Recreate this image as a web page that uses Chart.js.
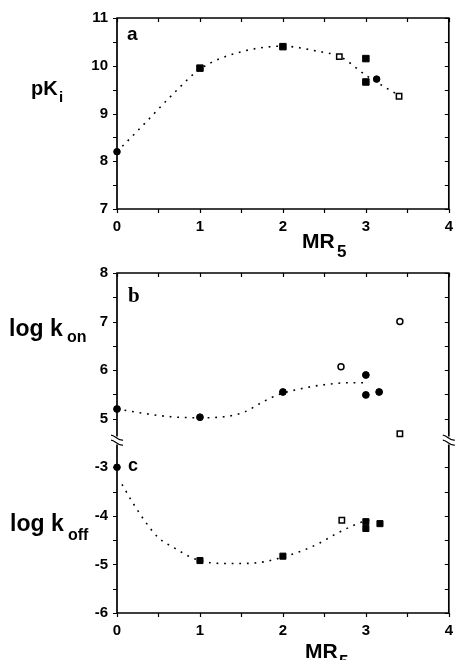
<!DOCTYPE html>
<html><head><meta charset="utf-8">
<script src="https://cdn.jsdelivr.net/npm/chart.js@4.4.1/dist/chart.umd.min.js"></script>
<style>
html,body{margin:0;padding:0;background:#fff;}
#wrap{position:relative;width:462px;height:660px;overflow:hidden;background:#fff;}
#ca,#cb{position:absolute;left:0;}
#ca{top:0;}
#cb{top:250px;}
.t{position:absolute;font-family:"Liberation Sans",Arial,Helvetica,sans-serif;font-weight:bold;color:#000;line-height:1;white-space:nowrap;}
.s{font-family:"Liberation Serif","Times New Roman",serif;}
</style></head><body>
<div id="wrap">
<canvas id="ca" width="462" height="250"></canvas>
<canvas id="cb" width="462" height="410"></canvas>
<span class="t" style="left:31px;top:78px;font-size:20px">pK</span>
<span class="t" style="left:59px;top:89px;font-size:15px">i</span>
<span class="t" style="left:302px;top:230px;font-size:21px">MR</span>
<span class="t" style="left:337px;top:243px;font-size:17px">5</span>
<span class="t" style="left:127px;top:24px;font-size:19px">a</span>
<span class="t s" style="left:128px;top:285px;font-size:21px">b</span>
<span class="t" style="left:128px;top:456px;font-size:18px">c</span>
<span class="t" style="left:9px;top:317px;font-size:23px">log k</span>
<span class="t" style="left:67px;top:329px;font-size:16px">on</span>
<span class="t" style="left:10px;top:512px;font-size:23px">log k</span>
<span class="t" style="left:68px;top:527px;font-size:16px">off</span>
<span class="t" style="left:305px;top:640px;font-size:21px">MR</span>
<span class="t" style="left:339px;top:653px;font-size:17px">5</span>
</div>
<script>
// ---------- axis ticks ----------
const xTicks = [0, 1, 2, 3, 4];
const aYTicks = [7, 8, 9, 10, 11];
const bYTicks = [5, 6, 7, 8];
const cYTicks = [-6, -5, -4, -3];
const C_SHIFT = 7;           // lower (c) block is drawn under the axis break
const BREAK_AT = 4.55;       // break position on the shared b/c axis

// ---------- panel a : pKi ----------
const aFilledCircleX = [0, 3.13];
const aFilledCircleY = [8.2, 9.72];
const aFilledSquareX = [1, 2, 3, 3];
const aFilledSquareY = [9.95, 10.4, 10.15, 9.66];
const aOpenSquareX = [2.68, 3.4];
const aOpenSquareY = [10.19, 9.36];
const aCurveX = [0, 0.3, 0.66, 1, 1.45, 2, 2.4, 2.7, 3, 3.25, 3.38];
const aCurveY = [8.2, 8.73, 9.38, 9.93, 10.27, 10.41, 10.31, 10.18, 9.8, 9.53, 9.4];

// ---------- panel b : log kon ----------
const bFilledCircleX = [0, 1, 2, 3, 3, 3.16];
const bFilledCircleY = [5.2, 5.03, 5.55, 5.9, 5.49, 5.55];
const bOpenCircleX = [2.7, 3.41];
const bOpenCircleY = [6.07, 7.0];
const bOpenSquareX = [3.41];
const bOpenSquareY = [4.69];
const bCurveX = [0, 0.36, 0.65, 1, 1.29, 1.54, 1.74, 1.94, 2.25, 2.5, 2.78, 3.0];
const bCurveY = [5.2, 5.1, 5.04, 5.02, 5.04, 5.14, 5.33, 5.49, 5.63, 5.7, 5.74, 5.74];

// ---------- panel c : log koff ----------
const cFilledCircleX = [0];
const cFilledCircleY = [-3];
const cFilledSquareX = [1, 2, 3, 3, 3.17];
const cFilledSquareY = [-4.92, -4.83, -4.12, -4.26, -4.16];
const cOpenSquareX = [2.71];
const cOpenSquareY = [-4.09];
const cCurveX = [0.06, 0.19, 0.35, 0.5, 0.7, 0.9, 1.0, 1.25, 1.48, 1.72, 1.94, 2.23, 2.43, 2.62, 2.82, 3.0, 3.1];
const cCurveY = [-3.35, -3.73, -4.14, -4.45, -4.67, -4.86, -4.92, -4.98, -4.98, -4.96, -4.88, -4.72, -4.57, -4.39, -4.22, -4.1, -4.07];

// ---------- helpers ----------
const zip = (xs, ys, off = 0) => xs.map((x, i) => ({x, y: ys[i] + off}));
const FONT = {family: '"Liberation Sans", Arial, Helvetica, sans-serif', size: 15, weight: 'bold'};

function curve(xs, ys, off) {
  return {type: 'line', data: zip(xs, ys, off), borderColor: '#000', borderWidth: 1.6,
    borderDash: [1.8, 5.8], pointRadius: 0, fill: false, cubicInterpolationMode: 'monotone', clip: false, order: 2};
}
function marks(xs, ys, off, style, filled, r) {
  return {type: 'scatter', data: zip(xs, ys, off), pointStyle: style, pointRadius: r,
    pointBackgroundColor: filled ? '#000' : '#fff', pointBorderColor: '#000',
    pointBorderWidth: filled ? 1 : 1.5, clip: false, order: 1};
}

const framePlugin = {
  id: 'frame',
  beforeDatasetsDraw(chart, args, o) {
    const {ctx, chartArea: ca} = chart;
    const x = chart.scales.x, y = chart.scales.y;
    const L = ca.left, R = ca.right, T = ca.top, B = ca.bottom;
    const hasBreak = o.breakAt != null;
    const yb = hasBreak ? y.getPixelForValue(o.breakAt) : 0;
    const g = 4;
    ctx.save();
    ctx.strokeStyle = '#000';
    ctx.lineWidth = 1.7;
    ctx.beginPath();
    ctx.moveTo(L - 0.8, T); ctx.lineTo(R + 0.8, T);
    ctx.moveTo(L - 0.8, B); ctx.lineTo(R + 0.8, B);
    for (const X of [L, R]) {
      if (hasBreak) {
        ctx.moveTo(X, T); ctx.lineTo(X, yb - g);
        ctx.moveTo(X, yb + g); ctx.lineTo(X, B);
      } else {
        ctx.moveTo(X, T); ctx.lineTo(X, B);
      }
    }
    ctx.stroke();
    ctx.lineWidth = 1.2;
    ctx.beginPath();
    for (let v = x.min; v <= x.max + 1e-9; v += 0.5) {
      const px = Math.round(x.getPixelForValue(v)) + 0.5;
      ctx.moveTo(px, B); ctx.lineTo(px, B + 4);
      ctx.moveTo(px, T); ctx.lineTo(px, T + 4);
    }
    for (let v = y.min; v <= y.max + 1e-9; v += 0.5) {
      if (hasBreak && Math.abs(v - o.breakAt) < 0.3) continue;
      const py = Math.round(y.getPixelForValue(v)) + 0.5;
      ctx.moveTo(L - 4, py); ctx.lineTo(L, py);
      ctx.moveTo(R, py); ctx.lineTo(R - 4, py);
    }
    ctx.stroke();
    if (hasBreak) {
      ctx.lineWidth = 1.3;
      ctx.beginPath();
      for (const X of [L, R]) {
        for (const d of [-2.5, 2.5]) {
          ctx.moveTo(X - 6, yb + d - 3);
          ctx.bezierCurveTo(X - 2, yb + d - 3, X + 1, yb + d + 3, X + 6, yb + d + 2);
        }
      }
      ctx.stroke();
    }
    ctx.restore();
  }
};

function xScale() {
  return {type: 'linear', min: 0, max: 4,
    afterFit: s => { s.height = 30; },
    afterBuildTicks: s => { s.ticks = xTicks.map(v => ({value: v})); },
    grid: {display: false, drawTicks: false}, border: {display: false},
    ticks: {font: FONT, color: '#000', padding: 9, maxRotation: 0, callback: v => String(v)}};
}

// ---------- chart a ----------
new Chart(document.getElementById('ca'), {
  type: 'scatter',
  data: {datasets: [
    curve(aCurveX, aCurveY, 0),
    marks(aFilledCircleX, aFilledCircleY, 0, 'circle', true, 3.3),
    marks(aFilledSquareX, aFilledSquareY, 0, 'rect', true, 4.6),
    marks(aOpenSquareX, aOpenSquareY, 0, 'rect', false, 3.8)
  ]},
  options: {
    responsive: false, animation: false, events: [],
    layout: {padding: {left: 77, right: 6, top: 17, bottom: 11}},
    plugins: {legend: {display: false}, tooltip: {enabled: false}, frame: {}},
    scales: {
      x: xScale(),
      y: {type: 'linear', min: 7, max: 11,
        afterFit: s => { s.width = 40; },
        afterBuildTicks: s => { s.ticks = aYTicks.map(v => ({value: v})); },
        grid: {display: false, drawTicks: false}, border: {display: false},
        ticks: {font: FONT, color: '#000', padding: 9, callback: v => String(v)}}
    }
  },
  plugins: [framePlugin]
});

// ---------- chart b + c (shared frame with axis break) ----------
new Chart(document.getElementById('cb'), {
  type: 'scatter',
  data: {datasets: [
    curve(bCurveX, bCurveY, 0),
    curve(cCurveX, cCurveY, C_SHIFT),
    marks(bFilledCircleX, bFilledCircleY, 0, 'circle', true, 3.4),
    marks(bOpenCircleX, bOpenCircleY, 0, 'circle', false, 3),
    marks(bOpenSquareX, bOpenSquareY, 0, 'rect', false, 3.8),
    marks(cFilledCircleX, cFilledCircleY, C_SHIFT, 'circle', true, 3.3),
    marks(cFilledSquareX, cFilledSquareY, C_SHIFT, 'rect', true, 4.3),
    marks(cOpenSquareX, cOpenSquareY, C_SHIFT, 'rect', false, 3.8)
  ]},
  options: {
    responsive: false, animation: false, events: [],
    layout: {padding: {left: 77, right: 6, top: 23, bottom: 17}},
    plugins: {legend: {display: false}, tooltip: {enabled: false}, frame: {breakAt: BREAK_AT}},
    scales: {
      x: xScale(),
      y: {type: 'linear', min: cYTicks[0] + C_SHIFT, max: bYTicks[bYTicks.length - 1],
        afterFit: s => { s.width = 40; },
        afterBuildTicks: s => {
          s.ticks = cYTicks.map(v => ({value: v + C_SHIFT})).concat(bYTicks.map(v => ({value: v})));
        },
        grid: {display: false, drawTicks: false}, border: {display: false},
        ticks: {font: FONT, color: '#000', padding: 9,
          callback: v => String(v > BREAK_AT ? v : v - C_SHIFT)}}
    }
  },
  plugins: [framePlugin]
});
</script>
</body></html>
